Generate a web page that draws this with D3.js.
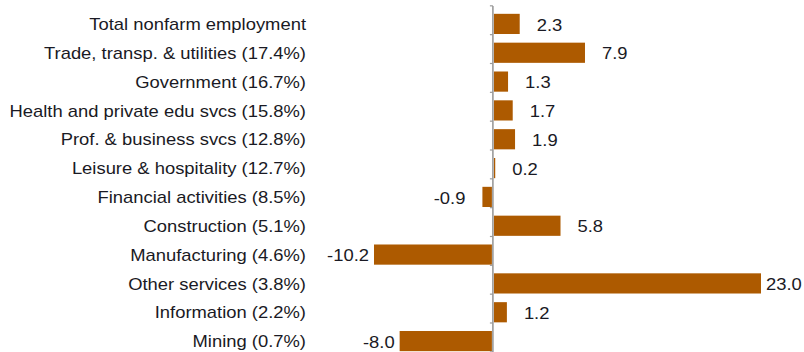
<!DOCTYPE html>
<html>
<head>
<meta charset="utf-8">
<script src="https://cdn.jsdelivr.net/npm/d3@7"></script>
<style>
  body { margin: 0; background: #fff; }
  svg { display: block; }
</style>
</head>
<body>
<div id="chart"></div>
<script>
// categories (top to bottom) and values
const categories = [
  'Total nonfarm employment',
  'Trade, transp. & utilities (17.4%)',
  'Government (16.7%)',
  'Health and private edu svcs (15.8%)',
  'Prof. & business svcs (12.8%)',
  'Leisure & hospitality (12.7%)',
  'Financial activities (8.5%)',
  'Construction (5.1%)',
  'Manufacturing (4.6%)',
  'Other services (3.8%)',
  'Information (2.2%)',
  'Mining (0.7%)'
];
const values = [2.3, 7.9, 1.3, 1.7, 1.9, 0.2, -0.9, 5.8, -10.2, 23.0, 1.2, -8.0];
const valueLabels = ['2.3', '7.9', '1.3', '1.7', '1.9', '0.2', '-0.9', '5.8', '-10.2', '23.0', '1.2', '-8.0'];

const width = 804;
const height = 352;
const barColor = '#AD5A00';
const textColor = '#1a1a24';
const font = '"Liberation Sans", Arial, sans-serif';
const stretch = 1.15; // text in the picture is a bit wide

const svg = d3.select('#chart')
  .append('svg')
  .attr('width', width)
  .attr('height', height);

const x = d3.scaleLinear()
  .domain(d3.extent(values))
  .range([374, 761]);

const y = d3.scaleBand()
  .domain(categories)
  .range([9.5, 355.5])
  .paddingInner(0.3)
  .paddingOuter(0.15);

const data = categories.map((c, i) => ({ name: c, value: values[i], label: valueLabels[i] }));

// bars
svg.append('g')
  .selectAll('rect')
  .data(data)
  .join('rect')
  .attr('x', d => d.value < 0 ? x(d.value) : x(0) + 1)
  .attr('y', d => y(d.name))
  .attr('width', d => Math.max(1, Math.abs(x(d.value) - x(0)) - 1))
  .attr('height', y.bandwidth())
  .attr('fill', barColor);

// zero axis with small ticks between rows
const axisG = svg.append('g');
axisG.append('line')
  .attr('x1', x(0)).attr('x2', x(0))
  .attr('y1', 6).attr('y2', height)
  .attr('stroke', '#9a9a9a')
  .attr('stroke-width', 1.6);

const step = y.step();
const tickYs = d3.range(categories.length + 1).map(i => y(categories[0]) - 8 + i * step);
axisG.selectAll('line.tick')
  .data(tickYs)
  .join('line')
  .attr('class', 'tick')
  .attr('x1', x(0) - 3).attr('x2', x(0))
  .attr('y1', d => d).attr('y2', d => d)
  .attr('stroke', '#9a9a9a')
  .attr('stroke-width', 1.2);

const cy = d => y(d.name) + y.bandwidth() / 2;

// category labels
svg.append('g')
  .selectAll('text')
  .data(data)
  .join('text')
  .attr('transform', d => `translate(306,${cy(d)}) scale(${stretch},1)`)
  .attr('dy', '0.38em')
  .attr('text-anchor', 'end')
  .style('font-family', font)
  .style('font-size', '16px')
  .style('fill', textColor)
  .text(d => d.name);

// value labels
const gap = d => Math.abs(d.value) >= 8 ? 5 : 17;
svg.append('g')
  .selectAll('text')
  .data(data)
  .join('text')
  .attr('transform', d => {
    const tx = d.value < 0 ? x(d.value) - gap(d) : x(d.value) + gap(d);
    return `translate(${tx},${cy(d)}) scale(${stretch},1)`;
  })
  .attr('dy', '0.42em')
  .attr('text-anchor', d => d.value < 0 ? 'end' : 'start')
  .style('font-family', font)
  .style('font-size', '16px')
  .style('fill', textColor)
  .text(d => d.label);
</script>
</body>
</html>
